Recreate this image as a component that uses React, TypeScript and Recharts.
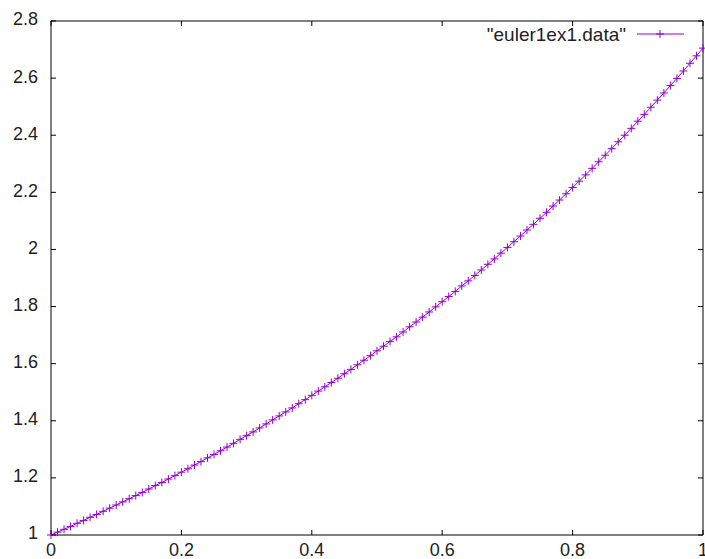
import React from "react";
import { Line, LineChart, XAxis, YAxis } from "recharts";

// x steps of the euler run (h = 0.01)
const xs = [
  0, 0.01, 0.02, 0.03, 0.04, 0.05, 0.06, 0.07, 0.08, 0.09,
  0.1, 0.11, 0.12, 0.13, 0.14, 0.15, 0.16, 0.17, 0.18, 0.19,
  0.2, 0.21, 0.22, 0.23, 0.24, 0.25, 0.26, 0.27, 0.28, 0.29,
  0.3, 0.31, 0.32, 0.33, 0.34, 0.35, 0.36, 0.37, 0.38, 0.39,
  0.4, 0.41, 0.42, 0.43, 0.44, 0.45, 0.46, 0.47, 0.48, 0.49,
  0.5, 0.51, 0.52, 0.53, 0.54, 0.55, 0.56, 0.57, 0.58, 0.59,
  0.6, 0.61, 0.62, 0.63, 0.64, 0.65, 0.66, 0.67, 0.68, 0.69,
  0.7, 0.71, 0.72, 0.73, 0.74, 0.75, 0.76, 0.77, 0.78, 0.79,
  0.8, 0.81, 0.82, 0.83, 0.84, 0.85, 0.86, 0.87, 0.88, 0.89,
  0.9, 0.91, 0.92, 0.93, 0.94, 0.95, 0.96, 0.97, 0.98, 0.99,
  1,
];

const ys = [
  1.0, 1.01, 1.02, 1.03, 1.041, 1.051, 1.062, 1.072, 1.083, 1.094,
  1.105, 1.116, 1.127, 1.138, 1.149, 1.161, 1.173, 1.184, 1.196, 1.208,
  1.22, 1.232, 1.245, 1.257, 1.27, 1.282, 1.295, 1.308, 1.321, 1.335,
  1.348, 1.361, 1.375, 1.389, 1.403, 1.417, 1.431, 1.445, 1.46, 1.474,
  1.489, 1.504, 1.519, 1.534, 1.549, 1.565, 1.58, 1.596, 1.612, 1.628,
  1.645, 1.661, 1.678, 1.694, 1.711, 1.729, 1.746, 1.763, 1.781, 1.799,
  1.817, 1.835, 1.853, 1.872, 1.89, 1.909, 1.928, 1.948, 1.967, 1.987,
  2.007, 2.027, 2.047, 2.068, 2.088, 2.109, 2.13, 2.152, 2.173, 2.195,
  2.217, 2.239, 2.261, 2.284, 2.307, 2.33, 2.353, 2.377, 2.4, 2.424,
  2.449, 2.473, 2.498, 2.523, 2.548, 2.574, 2.599, 2.625, 2.652, 2.678,
  2.705,
];

const xTicks = [0, 0.2, 0.4, 0.6, 0.8, 1];
const yTicks = [1, 1.2, 1.4, 1.6, 1.8, 2, 2.2, 2.4, 2.6, 2.8];

const seriesName = '"euler1ex1.data"';
const purple = "#9400d3";
const font = "'Liberation Sans', Arial, sans-serif";

const data = xs.map((x, i) => ({ x, y: ys[i] }));

const PlusDot = (props: any) => {
  const { cx, cy, index } = props;
  if (cx == null || cy == null) return <g key={index} />;
  return (
    <path
      key={index}
      d={`M${cx - 4},${cy}H${cx + 4}M${cx},${cy - 4}V${cy + 4}`}
      stroke={purple}
      strokeWidth={1}
      fill="none"
    />
  );
};

// mirrored border ticks carry no labels
const NoLabel = () => <g />;

const tickStyle = { fill: "#222", fontSize: 18, fontFamily: font };

export default function App() {
  return (
    <div style={{ position: "absolute", left: 0, top: 0, width: 705, height: 559, background: "#fff" }}>
      <LineChart
        width={705}
        height={559}
        data={data}
        margin={{ top: 20, right: 1, bottom: 0, left: 11 }}
      >
        <XAxis
          dataKey="x"
          type="number"
          domain={[0, 1]}
          ticks={xTicks}
          tickSize={-5}
          tickMargin={13}
          height={24}
          stroke="#000"
          tick={tickStyle}
          interval={0}
        />
        <XAxis
          xAxisId="top"
          dataKey="x"
          orientation="top"
          type="number"
          domain={[0, 1]}
          ticks={xTicks}
          tickSize={-5}
          height={1}
          stroke="#000"
          tick={NoLabel}
          interval={0}
        />
        <YAxis
          type="number"
          domain={[1, 2.8]}
          ticks={yTicks}
          tickSize={-5}
          tickMargin={18}
          width={40}
          stroke="#000"
          tick={{ ...tickStyle, dy: -2 }}
          interval={0}
        />
        <YAxis
          yAxisId="right"
          orientation="right"
          type="number"
          domain={[1, 2.8]}
          ticks={yTicks}
          tickSize={-5}
          width={1}
          stroke="#000"
          tick={NoLabel}
          interval={0}
        />
        {/* invisible copy so the mirrored border axes get drawn */}
        <Line
          xAxisId="top"
          yAxisId="right"
          dataKey="y"
          stroke="none"
          dot={false}
          activeDot={false}
          isAnimationActive={false}
        />
        <Line
          dataKey="y"
          stroke={purple}
          strokeWidth={1}
          dot={PlusDot}
          activeDot={false}
          isAnimationActive={false}
        />
      </LineChart>
      <svg
        width={705}
        height={559}
        style={{ position: "absolute", left: 0, top: 0, pointerEvents: "none" }}
      >
        <text
          x={626}
          y={41}
          textAnchor="end"
          fontSize={19}
          fontFamily={font}
          fill="#222"
        >
          {seriesName}
        </text>
        <line x1={637} y1={34} x2={684} y2={34} stroke={purple} strokeWidth={1} />
        <path d="M656,34H664M660,30V38" stroke={purple} strokeWidth={1} />
      </svg>
    </div>
  );
}
